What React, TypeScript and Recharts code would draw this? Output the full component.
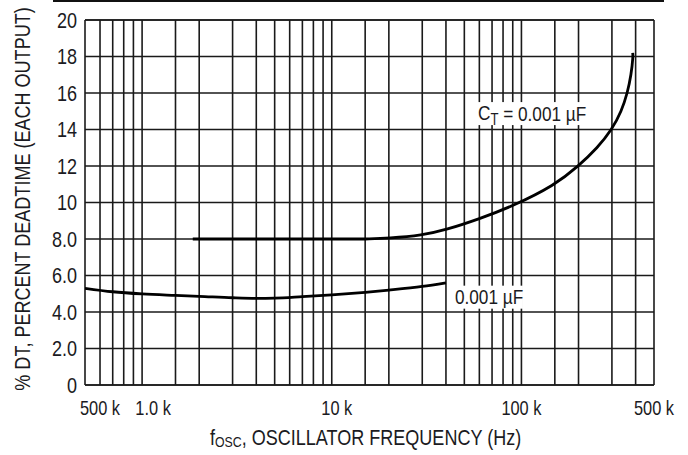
import React from "react";
import {
  LineChart,
  Line,
  XAxis,
  YAxis,
  CartesianGrid,
  ReferenceLine,
  ReferenceDot,
} from "recharts";

// C_T = 0.001 uF, upper curve: flat run, then the rising part
const ct1FlatFreq = [1850, 15000];
const ct1FlatDt = [8.0, 8.0];
const ct1RiseFreq = [15000, 20000, 30000, 40000, 60000, 90000, 150000, 200000, 252000, 300000, 337000, 362000, 379000, 388000, 386000];
const ct1RiseDt = [8.0, 8.04, 8.2, 8.5, 9.1, 9.8, 10.95, 12.0, 13.0, 14.0, 15.0, 16.0, 17.0, 18.0, 18.2];

// 0.001 uF, lower curve
const ct2Freq = [500, 700, 1000, 1500, 2000, 3000, 4000, 5000, 7000, 10000, 15000, 20000, 30000, 40000];
const ct2Dt = [5.3, 5.11, 4.99, 4.91, 4.86, 4.78, 4.75, 4.76, 4.84, 4.94, 5.08, 5.2, 5.4, 5.6];

const xTicks = [500, 1000, 10000, 100000, 500000];
const xTickLabels = ["500 k", "1.0 k", "10 k", "100 k", "500 k"];
const yTicks = [0, 2, 4, 6, 8, 10, 12, 14, 16, 18, 20];
const yTickLabels = ["0", "2.0", "4.0", "6.0", "8.0", "10", "12", "14", "16", "18", "20"];

const xGrid = [
  500, 600, 700, 800, 900, 1000, 1500, 2000, 3000, 4000, 5000, 6000, 7000, 8000, 9000,
  10000, 15000, 20000, 30000, 40000, 50000, 60000, 70000, 80000, 90000,
  100000, 150000, 200000, 300000, 400000, 500000,
];

const ct1Flat = ct1FlatFreq.map((f, i) => ({ f, dt: ct1FlatDt[i] }));
const ct1Rise = ct1RiseFreq.map((f, i) => ({ f, dt: ct1RiseDt[i] }));
const ct2 = ct2Freq.map((f, i) => ({ f, dt: ct2Dt[i] }));

const FONT = "'Liberation Sans', Arial, sans-serif";
const INK = "#1b1b22";
const GRID = "#1a1a1a";

// condensed text: the reference uses a narrow face, so squeeze Liberation Sans
function NText({ x, y, size, anchor = "start", rotate = 0, children }: any) {
  return (
    <g transform={`translate(${x}, ${y}) rotate(${rotate}) scale(0.82, 1)`}>
      <text x={0} y={0} textAnchor={anchor} dominantBaseline="central" fontFamily={FONT} fontSize={size} fill={INK}>
        {children}
      </text>
    </g>
  );
}

function XTick({ x, y, payload }: any) {
  const i = xTicks.indexOf(payload.value);
  const shift = payload.value === 500 ? 15 : payload.value === 1000 ? 11 : payload.value === 10000 ? 5 : 0;
  return (
    <NText x={x + shift} y={y + 15} size={20} anchor="middle">
      {xTickLabels[i]}
    </NText>
  );
}

function YTick({ x, y, payload }: any) {
  const i = yTicks.indexOf(payload.value);
  return (
    <NText x={x} y={y} size={22} anchor="end">
      {yTickLabels[i]}
    </NText>
  );
}

function XTitle({ viewBox }: any) {
  return (
    <NText x={viewBox.x + 125} y={viewBox.y + 52} size={22}>
      f<tspan fontSize={15} dy={5}>OSC</tspan>
      <tspan dy={-5}>, OSCILLATOR FREQUENCY (Hz)</tspan>
    </NText>
  );
}

function YTitle({ viewBox }: any) {
  return (
    <NText x={viewBox.x + 22} y={viewBox.y + 179} size={22} anchor="middle" rotate={-90}>
      % DT, PERCENT DEADTIME (EACH OUTPUT)
    </NText>
  );
}

function CurveLabel({ viewBox, sub, w }: any) {
  const x = viewBox.x + viewBox.width / 2;
  const y = viewBox.y + viewBox.height / 2;
  return (
    <g>
      <rect x={x - 2} y={y - 11} width={w} height={23} fill="#fff" />
      <NText x={x} y={y} size={21}>
        {sub ? (
          <>
            C<tspan fontSize={16} dy={6}>T</tspan>
            <tspan dy={-6}> = 0.001 µF</tspan>
          </>
        ) : (
          "0.001 µF"
        )}
      </NText>
    </g>
  );
}

export default function App() {
  return (
    <div style={{ position: "absolute", left: 0, top: 0, width: 688, height: 455, background: "#fff" }}>
      <div style={{ position: "absolute", left: 53, top: 0, width: 611, height: 2, background: "#111" }} />
      <LineChart width={688} height={455} margin={{ top: 20, right: 34, bottom: 40, left: 0 }}>
        <CartesianGrid vertical={false} stroke={GRID} strokeWidth={1.6} />
        <XAxis
          dataKey="f"
          type="number"
          scale="log"
          domain={[500, 500000]}
          ticks={xTicks}
          allowDataOverflow
          height={30}
          axisLine={false}
          tickLine={false}
          tick={<XTick />}
          label={{ content: <XTitle /> }}
        />
        <YAxis
          type="number"
          domain={[0, 20]}
          ticks={yTicks}
          width={85}
          axisLine={false}
          tickLine={false}
          tick={<YTick />}
          label={{ content: <YTitle /> }}
        />
        {xGrid.map((v) => (
          <ReferenceLine key={v} x={v} stroke={GRID} strokeWidth={1.6} />
        ))}
        <ReferenceLine y={0} stroke={GRID} strokeWidth={1.6} />
        <ReferenceLine y={20} stroke={GRID} strokeWidth={1.6} />
        <Line data={ct1Flat} dataKey="dt" type="linear" stroke="#000" strokeWidth={2.8} dot={false} isAnimationActive={false} />
        <Line data={ct1Rise} dataKey="dt" type="basis" stroke="#000" strokeWidth={2.8} dot={false} isAnimationActive={false} />
        <Line data={ct2} dataKey="dt" type="monotone" stroke="#000" strokeWidth={2.8} dot={false} isAnimationActive={false} />
        <ReferenceDot x={59000} y={14.9} r={0} fill="none" stroke="none" label={{ content: <CurveLabel sub w={122} /> }} />
        <ReferenceDot x={44600} y={4.84} r={0} fill="none" stroke="none" label={{ content: <CurveLabel w={70} /> }} />
      </LineChart>
    </div>
  );
}
